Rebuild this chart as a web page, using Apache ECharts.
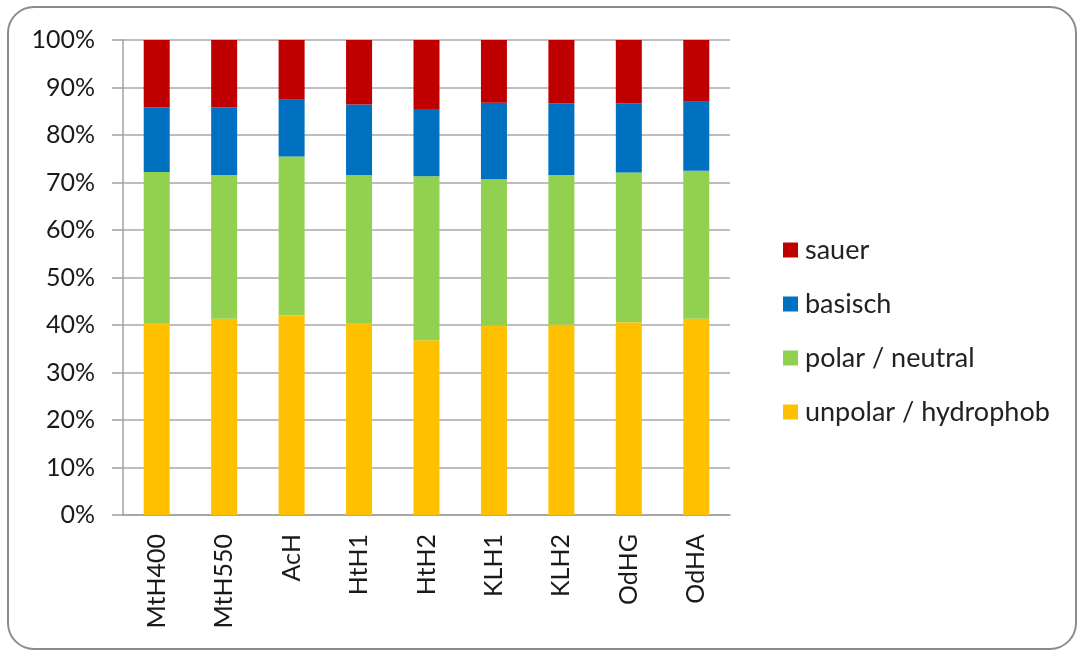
<!DOCTYPE html>
<html>
<head>
<meta charset="utf-8">
<script src="https://cdn.jsdelivr.net/npm/echarts@6/dist/echarts.min.js"></script>
<style>
html,body{margin:0;padding:0;background:#fff;}
#c{width:1078px;height:651px;}
</style>
</head>
<body>
<div id="c"></div>
<script>
var categories = ['MtH400','MtH550','AcH','HtH1','HtH2','KLH1','KLH2','OdHG','OdHA'];
var unpolar = [40.4, 41.3, 42.0, 40.4, 36.8, 39.9, 40.1, 40.6, 41.3];
var polar   = [31.8, 30.3, 33.5, 31.2, 34.5, 30.8, 31.5, 31.5, 31.2];
var basisch = [13.6, 14.2, 11.9, 14.8, 14.2, 16.1, 15.1, 14.6, 14.5];
var sauer   = [14.2, 14.2, 12.6, 13.6, 14.5, 13.2, 13.3, 13.3, 13.0];
var yTicks = [0,10,20,30,40,50,60,70,80,90,100];

var FONT = 'Lato';
var chart = echarts.init(document.getElementById('c'));
function bar(name, data, color){
  return {name:name, type:'bar', stack:'all', data:data, barWidth:26,
    itemStyle:{color:color}, emphasis:{disabled:true}};
}
chart.setOption({
  animation:false,
  textStyle:{fontFamily:FONT},
  graphic:[{type:'rect', shape:{x:8, y:7, width:1068, height:642, r:26},
    style:{fill:'none', stroke:'#8c8c8c', lineWidth:2}}],
  grid:{left:123, right:348, top:40, bottom:136},
  legend:{orient:'vertical', left:778, top:231, itemWidth:15, itemHeight:15, itemGap:26,
    icon:'rect', selectedMode:false,
    data:['sauer','basisch','polar / neutral','unpolar / hydrophob'],
    textStyle:{fontFamily:FONT, fontSize:27, lineHeight:28, color:'#222', padding:[0,0,0,2]}},
  xAxis:{type:'category', data:categories,
    axisLine:{lineStyle:{color:'#a0a0a0', width:1.5}},
    axisTick:{length:10, lineStyle:{color:'#a0a0a0', width:1.5}},
    axisLabel:{rotate:90, margin:19, fontSize:25, color:'#1a1a1a', fontFamily:FONT}},
  yAxis:{type:'value', min:0, max:100, interval:10,
    axisLine:{show:true, lineStyle:{color:'#a0a0a0', width:1.5}},
    axisTick:{show:true, length:11, lineStyle:{color:'#a0a0a0', width:1.5}},
    splitLine:{lineStyle:{color:'#a8a8a8', width:1.5}},
    axisLabel:{formatter:'{value}%', margin:28, fontSize:25, color:'#1a1a1a', fontFamily:FONT,
      customValues: yTicks}},
  series:[
    bar('unpolar / hydrophob', unpolar, '#FFC000'),
    bar('polar / neutral', polar, '#92D050'),
    bar('basisch', basisch, '#0070C0'),
    bar('sauer', sauer, '#C00000')
  ]
});
</script>
</body>
</html>
